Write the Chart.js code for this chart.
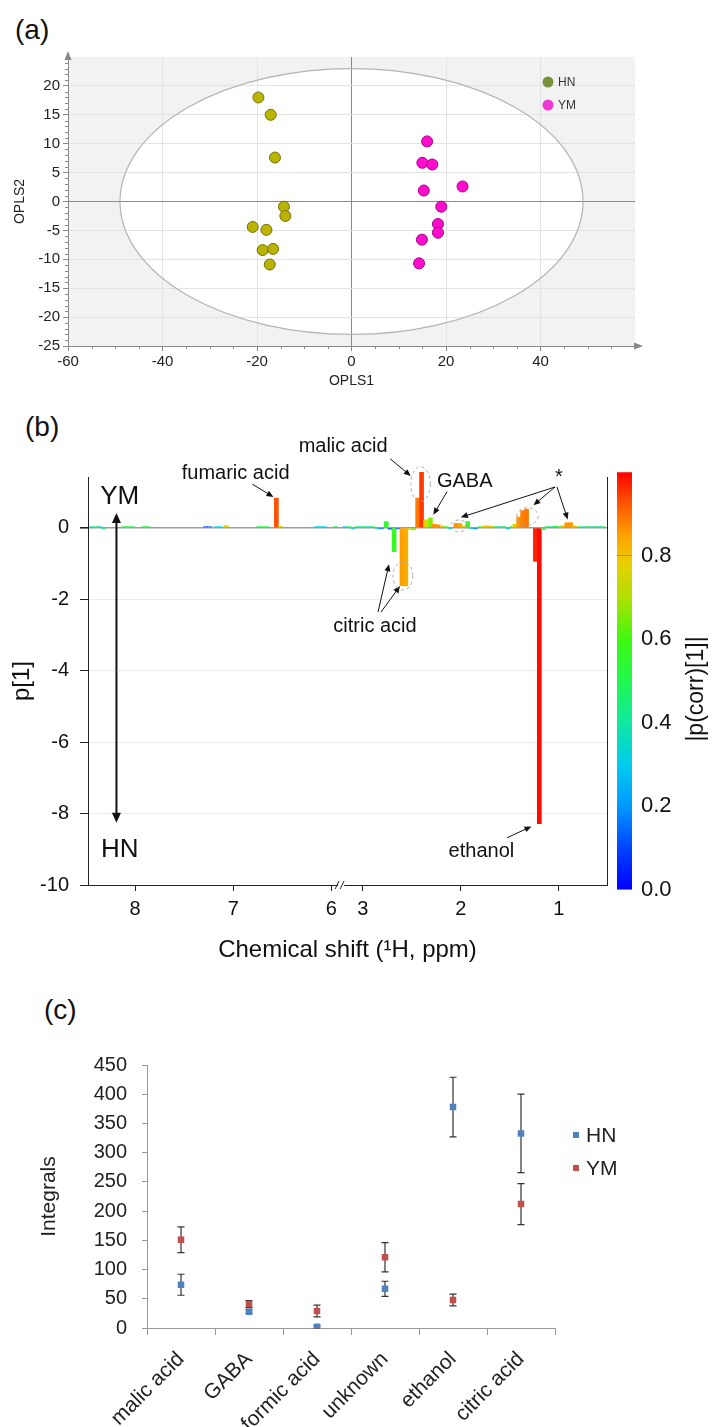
<!DOCTYPE html>
<html>
<head>
<meta charset="utf-8">
<script src="https://cdn.jsdelivr.net/npm/chart.js@4.4.1/dist/chart.umd.min.js"></script>
<style>
html, body { margin: 0; padding: 0; background: #fff; }
body { position: relative; width: 714px; height: 1427px; overflow: hidden; font-family: "Liberation Sans", Arial, sans-serif; }
canvas { position: absolute; left: 0; }
.panel { position: absolute; font-size: 28px; line-height: 32px; color: #111; }
</style>
</head>
<body>
<div class="panel" style="left:15px;top:14px">(a)</div>
<div class="panel" style="left:25px;top:411px">(b)</div>
<div class="panel" style="left:44px;top:994px">(c)</div>
<canvas id="scoreChart" width="714" height="395" style="top:0"></canvas>
<canvas id="loadingChart" width="714" height="580" style="top:395px"></canvas>
<canvas id="colorBar" width="124" height="462" style="top:450px;left:590px"></canvas>
<canvas id="integralChart" width="714" height="452" style="top:975px"></canvas>
<script>
// (a) OPLS-DA scores
var hnScoreX = [-19.7, -17.1, -16.2, -14.3, -14.0, -20.9, -18.0, -18.8, -16.6, -17.3]
var hnScoreY = [18.0, 15.0, 7.6, -0.9, -2.5, -4.4, -4.9, -8.4, -8.2, -10.9]
var ymScoreX = [16.0, 15.0, 17.1, 15.3, 23.5, 19.0, 18.3, 18.3, 14.9, 14.3]
var ymScoreY = [10.4, 6.7, 6.4, 1.9, 2.6, -0.9, -3.9, -5.4, -6.6, -10.7]
var t2Ellipse = [49, 23]   // Hotelling T2 semi-axes (OPLS1, OPLS2)
var scoreTicksX = [-60, -40, -20, 0, 20, 40]
var scoreTicksY = [-25, -20, -15, -10, -5, 0, 5, 10, 15, 20]

// (b) S-line loadings, bins in ppm
var shiftPpm = [8.44, 8.40, 8.36, 8.32, 8.12, 8.08, 8.03, 7.91, 7.87, 7.28, 7.24, 7.17, 7.13, 7.07,
  6.74, 6.70, 6.66, 6.56, 6.52, 6.15, 6.11, 6.07, 5.96,
  3.18, 3.14, 3.10, 3.06, 3.02, 2.98, 2.94, 2.90, 2.85, 2.81, 2.76, 2.72, 2.68, 2.64, 2.60, 2.56,
  2.52, 2.48, 2.44, 2.40, 2.36, 2.31, 2.27, 2.23, 2.19, 2.15, 2.11, 2.05, 2.01, 1.97, 1.93, 1.89,
  1.85, 1.80, 1.76, 1.72, 1.68, 1.64, 1.60, 1.56, 1.52, 1.48, 1.45, 1.41, 1.37, 1.33, 1.24, 1.20,
  1.16, 1.12, 1.08, 1.04, 1.00, 0.96, 0.92, 0.88, 0.84, 0.79, 0.75, 0.71, 0.67, 0.63, 0.59, 0.55]
var loadingP1 = [0.03, 0.03, 0.03, -0.03, 0.03, 0.03, 0.03, 0.03, 0.03, 0.03, 0.03, 0.03, 0.03, 0.06,
  0.03, 0.03, 0.03, 0.83, 0.04, 0.03, 0.03, 0.03, 0.03,
  0.03, 0.03, -0.03, 0.03, 0.03, 0.03, 0.03, 0.03, -0.03, -0.03, 0.17, -0.04, -0.67, -0.03, -1.62, -1.63,
  -0.05, -0.06, 0.83, 1.55, 0.22, 0.27, 0.10, 0.08, 0.05, 0.03, -0.03, 0.12, 0.12, 0.05, 0.17, -0.03,
  -0.03, 0.03, 0.05, 0.05, 0.04, 0.03, 0.03, 0.03, -0.03, 0.03, 0.10, 0.30, 0.48, 0.52, -0.94, -8.28,
  -0.05, 0.03, 0.03, 0.04, 0.03, 0.06, 0.14, 0.14, 0.05, 0.03, 0.03, 0.03, 0.03, 0.03, 0.03, 0.03]
var corrAbs = [0.35, 0.50, 0.32, 0.45, 0.50, 0.55, 0.50, 0.55, 0.50, 0.12, 0.15, 0.30, 0.32, 0.78,
  0.50, 0.55, 0.50, 0.93, 0.78, 0.30, 0.32, 0.30, 0.50,
  0.30, 0.50, 0.30, 0.55, 0.35, 0.50, 0.30, 0.50, 0.30, 0.15, 0.55, 0.10, 0.57, 0.12, 0.85, 0.83,
  0.76, 0.68, 0.89, 0.95, 0.77, 0.66, 0.86, 0.87, 0.78, 0.60, 0.35, 0.86, 0.84, 0.78, 0.57, 0.30,
  0.15, 0.50, 0.78, 0.80, 0.76, 0.50, 0.35, 0.50, 0.30, 0.55, 0.78, 0.86, 0.88, 0.89, 0.97, 0.99,
  0.55, 0.50, 0.35, 0.55, 0.50, 0.78, 0.86, 0.86, 0.80, 0.50, 0.35, 0.50, 0.35, 0.50, 0.35, 0.50]
var ppmTicks = [8, 7, 6, 3, 2, 1]
var p1Ticks = [0, -2, -4, -6, -8, -10]
var corrTicks = [0, 0.2, 0.4, 0.6, 0.8]

// (c) integrals
var compounds = ['malic acid', 'GABA', 'formic acid', 'unknown', 'ethanol', 'citric acid']
var hnMean = [74, 28, 2, 67, 378, 333]
var hnErr = [18, 3, 2, 13, 51, 67]
var ymMean = [151, 41, 29, 121, 48, 212]
var ymErr = [22, 6, 10, 25, 10, 35]

// broken ppm axis: 8.48..5.9 then 3.22..0.51
var ppmStart = 8.48, ppmBreakHigh = 5.9, ppmBreakLow = 3.22, ppmEnd = 0.51
function toAxis(ppm) {
    if (ppm > 4.5) return ppmStart - ppm
    return (ppmStart - ppmBreakHigh) + (ppmBreakLow - ppm)
}

var jetStops = [[0, [0, 0, 255]], [0.1, [0, 68, 255]], [0.2, [0, 153, 255]], [0.3, [0, 204, 238]],
  [0.4, [16, 232, 160]], [0.5, [32, 248, 80]], [0.6, [64, 248, 16]], [0.7, [176, 224, 0]],
  [0.78, [232, 208, 0]], [0.85, [255, 160, 0]], [0.93, [255, 80, 0]], [1, [255, 0, 0]]]
function jet(c) {
    for (var i = 1; i < jetStops.length; i++) {
        if (c <= jetStops[i][0]) {
            var a = jetStops[i - 1], b = jetStops[i]
            var t = (c - a[0]) / (b[0] - a[0])
            var rgb = a[1].map(function (v, k) { return Math.round(v + (b[1][k] - v) * t) })
            return 'rgb(' + rgb.join(',') + ')'
        }
    }
    return 'rgb(255,0,0)'
}

Chart.defaults.font.family = '"Liberation Sans", Arial, sans-serif'
Chart.defaults.color = '#222'
Chart.defaults.animation = false
Chart.defaults.plugins.legend.display = false
Chart.defaults.plugins.tooltip.enabled = false

function arrow(ctx, x1, y1, x2, y2, head, half) {
    var ang = Math.atan2(y2 - y1, x2 - x1)
    var c = Math.cos(ang), s = Math.sin(ang)
    ctx.beginPath()
    ctx.moveTo(x1, y1)
    ctx.lineTo(x2 - c * head * 0.7, y2 - s * head * 0.7)
    ctx.stroke()
    ctx.beginPath()
    ctx.moveTo(x2, y2)
    ctx.lineTo(x2 - head * c + half * s, y2 - head * s - half * c)
    ctx.lineTo(x2 - head * c - half * s, y2 - head * s + half * c)
    ctx.closePath()
    ctx.fill()
}

// ---------- (a) ----------
var scorePlot = {
    id: 'scorePlot',
    beforeDraw: function (chart) {
        var ctx = chart.ctx, a = chart.chartArea, xs = chart.scales.x, ys = chart.scales.y
        var cx = xs.getPixelForValue(0), cy = ys.getPixelForValue(0)
        ctx.save()
        ctx.fillStyle = '#f2f2f2'
        ctx.fillRect(a.left, a.top, a.right - a.left, a.bottom - a.top)
        ctx.fillStyle = '#fff'
        ctx.beginPath()
        ctx.ellipse(cx, cy, xs.getPixelForValue(t2Ellipse[0]) - cx, cy - ys.getPixelForValue(t2Ellipse[1]), 0, 0, 2 * Math.PI)
        ctx.fill()
        ctx.restore()
    },
    beforeDatasetsDraw: function (chart) {
        var ctx = chart.ctx, a = chart.chartArea, xs = chart.scales.x, ys = chart.scales.y
        var cx = xs.getPixelForValue(0), cy = ys.getPixelForValue(0)
        ctx.save()
        ctx.strokeStyle = '#b4b4b4'
        ctx.lineWidth = 1.2
        ctx.beginPath()
        ctx.ellipse(cx, cy, xs.getPixelForValue(t2Ellipse[0]) - cx, cy - ys.getPixelForValue(t2Ellipse[1]), 0, 0, 2 * Math.PI)
        ctx.stroke()
        // minor ticks
        ctx.strokeStyle = '#888'
        ctx.lineWidth = 1
        ctx.beginPath()
        for (var v = -24; v < 25; v++) {
            if (v % 5 === 0) continue
            var py = Math.round(ys.getPixelForValue(v)) + 0.5
            ctx.moveTo(a.left - 3, py); ctx.lineTo(a.left, py)
        }
        for (var u = -55; u < 60; u += 5) {
            if (u % 20 === 0) continue
            var px = Math.round(xs.getPixelForValue(u)) + 0.5
            ctx.moveTo(px, a.bottom); ctx.lineTo(px, a.bottom + 3)
        }
        ctx.stroke()
        // axis arrows
        ctx.fillStyle = '#888'
        ctx.beginPath()
        ctx.moveTo(a.left, a.top - 6); ctx.lineTo(a.left - 3.5, a.top + 3); ctx.lineTo(a.left + 3.5, a.top + 3)
        ctx.closePath(); ctx.fill()
        ctx.beginPath()
        ctx.moveTo(a.right, a.bottom); ctx.lineTo(a.right + 6, a.bottom); ctx.stroke()
        ctx.beginPath()
        ctx.moveTo(a.right + 8, a.bottom); ctx.lineTo(a.right - 1, a.bottom - 3.5); ctx.lineTo(a.right - 1, a.bottom + 3.5)
        ctx.closePath(); ctx.fill()
        ctx.restore()
    },
    afterDraw: function (chart) {
        var ctx = chart.ctx, a = chart.chartArea
        var items = [['HN', '#77923a', 25], ['YM', '#ee3ad2', 48]]
        ctx.save()
        ctx.font = '12px "Liberation Sans", Arial, sans-serif'
        ctx.textBaseline = 'middle'
        items.forEach(function (it) {
            ctx.fillStyle = it[1]
            ctx.beginPath()
            ctx.arc(a.right - 87, a.top + it[2], 5.5, 0, 2 * Math.PI)
            ctx.fill()
            ctx.fillStyle = '#333'
            ctx.fillText(it[0], a.right - 77, a.top + it[2] + 1)
        })
        ctx.restore()
    }
}

new Chart(document.getElementById('scoreChart'), {
    type: 'scatter',
    data: {
        datasets: [
            { label: 'HN', data: hnScoreX.map(function (x, i) { return { x: x, y: hnScoreY[i] } }),
              backgroundColor: '#bab300', borderColor: '#76710a', borderWidth: 1, pointRadius: 5.5 },
            { label: 'YM', data: ymScoreX.map(function (x, i) { return { x: x, y: ymScoreY[i] } }),
              backgroundColor: '#ff0ccc', borderColor: '#a2008a', borderWidth: 1, pointRadius: 5.5 }
        ]
    },
    options: {
        responsive: false,
        layout: { padding: { top: 57, right: 79, bottom: 5, left: 0 } },
        scales: {
            x: {
                type: 'linear', min: -60, max: 60,
                afterBuildTicks: function (s) { s.ticks = scoreTicksX.map(function (v) { return { value: v } }) },
                afterFit: function (s) { s.height = 44 },
                grid: {
                    color: function (c) { return c.tick.value === 0 ? '#8a8a8a' : (c.tick.value === -60 ? 'rgba(0,0,0,0)' : '#e2e2e2') },
                    tickLength: 5, tickColor: '#888'
                },
                border: { color: '#888' },
                ticks: { font: { size: 15 }, color: '#222', padding: 2, maxRotation: 0 },
                title: { display: true, text: 'OPLS1', font: { size: 14 }, color: '#222', padding: 0 }
            },
            y: {
                type: 'linear', min: -25, max: 25,
                afterBuildTicks: function (s) { s.ticks = scoreTicksY.map(function (v) { return { value: v } }) },
                afterFit: function (s) { s.width = 68 },
                grid: {
                    color: function (c) { return c.tick.value === 0 ? '#8a8a8a' : (c.tick.value === -25 ? 'rgba(0,0,0,0)' : '#e2e2e2') },
                    tickLength: 5, tickColor: '#888'
                },
                border: { color: '#888' },
                ticks: { font: { size: 15 }, color: '#222', padding: 3 },
                title: { display: true, text: 'OPLS2', font: { size: 14 }, color: '#222', padding: { top: 12, bottom: 0 } }
            }
        }
    },
    plugins: [scorePlot]
})

// ---------- (b) ----------
var loadingNotes = {
    id: 'loadingNotes',
    afterDraw: function (chart) {
        var ctx = chart.ctx, a = chart.chartArea, xs = chart.scales.x, ys = chart.scales.y
        var X = function (ppm) { return xs.getPixelForValue(toAxis(ppm)) }
        var Y = function (v) { return ys.getPixelForValue(v) }
        ctx.save()
        // right frame line
        ctx.strokeStyle = '#222'
        ctx.lineWidth = 1
        ctx.beginPath()
        ctx.moveTo(Math.round(a.right) + 0.5, a.top); ctx.lineTo(Math.round(a.right) + 0.5, a.bottom)
        ctx.stroke()
        // axis break
        var bx = xs.getPixelForValue(toAxis(ppmBreakHigh))
        ctx.fillStyle = '#fff'
        ctx.fillRect(bx - 3, a.bottom - 2, 6, 4)
        ctx.beginPath()
        ctx.moveTo(bx - 6, a.bottom + 4); ctx.lineTo(bx - 2, a.bottom - 4)
        ctx.moveTo(bx - 1, a.bottom + 4); ctx.lineTo(bx + 3, a.bottom - 4)
        ctx.stroke()

        ctx.fillStyle = '#111'
        ctx.font = '20px "Liberation Sans", Arial, sans-serif'
        ctx.textAlign = 'center'
        ctx.textBaseline = 'middle'
        ctx.fillText('fumaric acid', X(6.975), Y(1.52))
        ctx.fillText('malic acid', X(3.20), Y(2.27))
        ctx.fillText('GABA', X(1.96), Y(1.29))
        ctx.fillText('*', X(1.00), Y(1.40))
        ctx.fillText('citric acid', X(2.875), Y(-2.77))
        ctx.fillText('ethanol', X(1.79), Y(-9.06))

        ctx.strokeStyle = '#111'
        ctx.lineWidth = 1
        arrow(ctx, X(6.805), Y(1.22), X(6.59), Y(0.86), 7, 3)
        arrow(ctx, X(2.72), Y(1.93), X(2.51), Y(1.45), 7, 3)
        arrow(ctx, X(2.14), Y(1.01), X(2.28), Y(0.36), 7, 3)
        arrow(ctx, X(1.04), Y(1.14), X(2.00), Y(0.29), 7, 3)
        arrow(ctx, X(1.04), Y(1.14), X(1.26), Y(0.63), 7, 3)
        arrow(ctx, X(1.02), Y(1.14), X(0.91), Y(0.23), 7, 3)
        arrow(ctx, X(2.844), Y(-2.36), X(2.732), Y(-1.02), 7, 3)
        arrow(ctx, X(2.813), Y(-2.36), X(2.62), Y(-1.63), 7, 3)
        arrow(ctx, X(1.53), Y(-8.68), X(1.28), Y(-8.36), 7, 3)

        // dashed rings
        ctx.strokeStyle = '#a8a8a8'
        ctx.setLineDash([3, 3])
        ;[[2.41, 1.22, 9.7, 17.5], [2.02, 0.05, 8.3, 5.9], [1.32, 0.32, 10.7, 8.7], [2.59, -1.35, 10, 14]].forEach(function (r) {
            ctx.beginPath()
            ctx.ellipse(X(r[0]), Y(r[1]), r[2], r[3], 0, 0, 2 * Math.PI)
            ctx.stroke()
        })
        ctx.setLineDash([])

        // group direction arrow
        ctx.strokeStyle = '#111'
        ctx.font = '26px "Liberation Sans", Arial, sans-serif'
        ctx.fillText('YM', X(8.157), Y(0.86))
        ctx.fillText('HN', X(8.157), Y(-9.02))
        ctx.lineWidth = 2
        var ax = X(8.19)
        arrow(ctx, ax, Y(-4), ax, Y(0.41), 10, 4.5)
        arrow(ctx, ax, Y(-4), ax, Y(-8.26), 10, 4.5)
        ctx.restore()
    }
}

new Chart(document.getElementById('loadingChart'), {
    type: 'bar',
    data: {
        datasets: [{
            data: shiftPpm.map(function (p, i) { return { x: toAxis(p), y: loadingP1[i] } }),
            backgroundColor: function (c) { return jet(corrAbs[c.dataIndex]) },
            borderWidth: 0,
            barThickness: 4,
            clip: false
        }]
    },
    options: {
        responsive: false,
        layout: { padding: { top: 82, right: 107, bottom: 10, left: 0 } },
        scales: {
            x: {
                type: 'linear', min: 0, max: toAxis(ppmEnd), offset: false,
                afterBuildTicks: function (s) { s.ticks = ppmTicks.map(function (p) { return { value: toAxis(p) } }) },
                afterFit: function (s) { s.height = 80 },
                grid: { drawOnChartArea: false, offset: false, tickLength: 6, tickColor: '#222' },
                border: { color: '#222' },
                ticks: { font: { size: 20 }, color: '#111', padding: 6, maxRotation: 0,
                         callback: function (v, i) { return String(ppmTicks[i]) } },
                title: { display: true, text: 'Chemical shift (\u00b9H, ppm)', font: { size: 24 }, color: '#111', padding: 0 }
            },
            y: {
                type: 'linear', min: -10, max: 1.42,
                afterBuildTicks: function (s) { s.ticks = p1Ticks.map(function (v) { return { value: v } }) },
                afterFit: function (s) { s.width = 88 },
                grid: {
                    color: function (c) { return c.tick.value === 0 ? '#9c9c9c' : (c.tick.value === -10 ? 'rgba(0,0,0,0)' : '#ececec') },
                    lineWidth: function (c) { return c.tick.value === 0 ? 1.6 : 1 },
                    tickLength: 8, tickColor: '#222'
                },
                border: { color: '#222' },
                ticks: { font: { size: 20 }, color: '#111', padding: 11 },
                title: { display: true, text: 'p[1]', font: { size: 24 }, color: '#111', padding: { top: 8, bottom: 0 } }
            }
        }
    },
    plugins: [loadingNotes]
})

// colour scale of |p(corr)[1]|
new Chart(document.getElementById('colorBar'), {
    type: 'bar',
    data: {
        labels: [''],
        datasets: [{
            data: [[0, 1]],
            borderWidth: 0,
            barPercentage: 1,
            categoryPercentage: 1,
            backgroundColor: function (c) {
                var area = c.chart.chartArea
                if (!area) return '#888'
                var g = c.chart.ctx.createLinearGradient(0, area.bottom, 0, area.top)
                jetStops.forEach(function (s) { g.addColorStop(s[0], jet(s[0])) })
                return g
            }
        }]
    },
    options: {
        responsive: false,
        layout: { padding: { top: 20, right: 0, bottom: 20, left: 27 } },
        scales: {
            x: { display: false },
            y: {
                position: 'right', min: 0, max: 1,
                afterBuildTicks: function (s) { s.ticks = corrTicks.map(function (v) { return { value: v } }) },
                afterFit: function (s) { s.width = 82 },
                grid: {
                    z: 1, drawTicks: false,
                    color: function (c) { return c.tick.value === 0.8 ? 'rgba(170,130,0,0.7)' : 'rgba(0,0,0,0)' }
                },
                border: { display: false },
                ticks: { font: { size: 22 }, color: '#111', padding: 9, callback: function (v) { return v.toFixed(1) } }
            }
        }
    },
    plugins: [{
        id: 'barTitle',
        afterDraw: function (chart) {
            var ctx = chart.ctx, a = chart.chartArea
            ctx.save()
            ctx.translate(a.right + 65, (a.top + a.bottom) / 2 + 8)
            ctx.rotate(-Math.PI / 2)
            ctx.font = '23px "Liberation Sans", Arial, sans-serif'
            ctx.fillStyle = '#111'
            ctx.textAlign = 'center'
            ctx.textBaseline = 'middle'
            ctx.fillText('|p(corr)[1]|', 0, 0)
            ctx.restore()
        }
    }]
})

// ---------- (c) ----------
var errorBars = {
    id: 'errorBars',
    beforeDatasetsDraw: function (chart) {
        var ctx = chart.ctx, ys = chart.scales.y
        var errs = [hnErr, ymErr]
        ctx.save()
        ctx.strokeStyle = '#333'
        ctx.lineWidth = 1.2
        chart.data.datasets.forEach(function (ds, d) {
            chart.getDatasetMeta(d).data.forEach(function (pt, i) {
                var top = ys.getPixelForValue(ds.data[i] + errs[d][i])
                var bot = ys.getPixelForValue(ds.data[i] - errs[d][i])
                ctx.beginPath()
                ctx.moveTo(pt.x, top); ctx.lineTo(pt.x, bot)
                ctx.moveTo(pt.x - 3.5, top); ctx.lineTo(pt.x + 3.5, top)
                ctx.moveTo(pt.x - 3.5, bot); ctx.lineTo(pt.x + 3.5, bot)
                ctx.stroke()
            })
        })
        ctx.restore()
    },
    afterDraw: function (chart) {
        var ctx = chart.ctx, a = chart.chartArea
        ctx.save()
        ctx.font = '21px "Liberation Sans", Arial, sans-serif'
        ctx.textBaseline = 'middle'
        chart.data.datasets.forEach(function (ds, d) {
            var y = a.top + 70 + d * 33
            ctx.fillStyle = ds.backgroundColor
            ctx.fillRect(a.right + 18, y - 3, 6, 6)
            ctx.fillStyle = '#222'
            ctx.fillText(ds.label, a.right + 31, y + 1)
        })
        ctx.restore()
    }
}

new Chart(document.getElementById('integralChart'), {
    type: 'line',
    data: {
        labels: compounds,
        datasets: [
            { label: 'HN', data: hnMean, backgroundColor: '#4f81bd', borderColor: '#4f81bd', showLine: false,
              pointStyle: 'rect', pointRadius: 4.6, borderWidth: 0 },
            { label: 'YM', data: ymMean, backgroundColor: '#c0504d', borderColor: '#c0504d', showLine: false,
              pointStyle: 'rect', pointRadius: 4.6, borderWidth: 0 }
        ]
    },
    options: {
        responsive: false,
        layout: { padding: { top: 90, right: 159, bottom: 0, left: 0 } },
        scales: {
            x: {
                offset: true,
                afterFit: function (s) { s.height = 99 },
                grid: { offset: true, drawOnChartArea: false, tickLength: 7, tickColor: '#999' },
                border: { color: '#999' },
                ticks: { font: { size: 21 }, color: '#222', padding: 12, autoSkip: false, minRotation: 45, maxRotation: 45 }
            },
            y: {
                min: 0, max: 450,
                afterFit: function (s) { s.width = 147 },
                grid: { drawOnChartArea: false, tickLength: 5, tickColor: '#999' },
                border: { color: '#999' },
                ticks: { stepSize: 50, font: { size: 20 }, color: '#222', padding: 15 },
                title: { display: true, text: 'Integrals', font: { size: 21 }, color: '#222', padding: { top: 37, bottom: 0 } }
            }
        }
    },
    plugins: [errorBars]
})
</script>
</body>
</html>
